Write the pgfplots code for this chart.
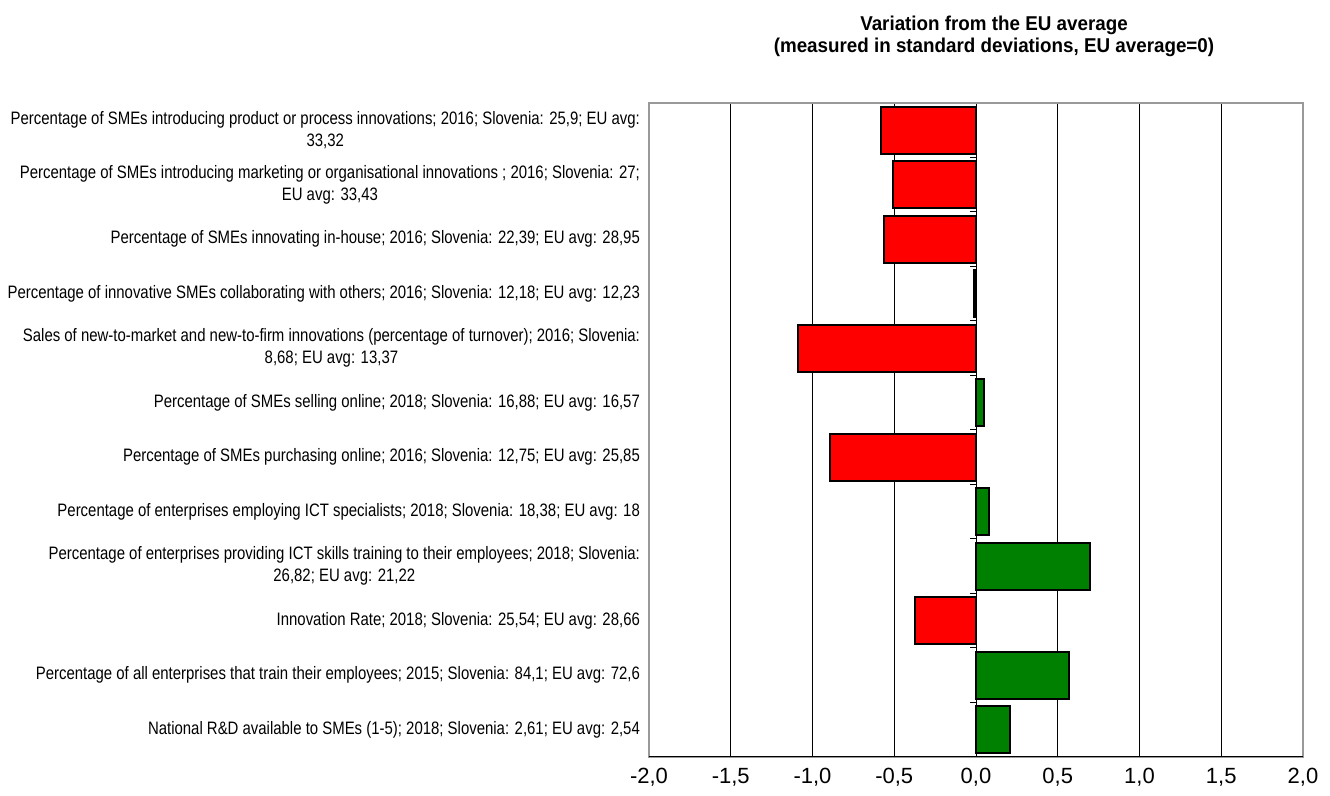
\documentclass[border=0pt]{standalone}
\usepackage{fontspec}
\setmainfont{Liberation Sans}
\newfontfamily\labelfont[FakeStretch=0.83]{Liberation Sans}
\newfontfamily\titlefont[FakeStretch=0.94]{Liberation Sans}
\usepackage{pgfplots}
\pgfplotsset{compat=1.18}
\definecolor{barred}{RGB}{255,0,0}
\definecolor{bargreen}{RGB}{0,128,0}
\begin{document}
\begin{tikzpicture}
\path[use as bounding box] (0,0) rectangle (665pt,398pt);
\node[align=center,font=\titlefont\bfseries\fontsize{10}{11}\selectfont] at (497pt,380pt)
  {Variation from the EU average\\(measured in standard deviations, EU average=0)};
\begin{axis}[
  at={(324.5pt,19.5pt)}, anchor=south west,
  scale only axis, width=327pt, height=327pt,
  xbar, bar shift=0pt, bar width=0.86,
  xmin=-2, xmax=2, ymin=-0.5, ymax=11.5, y dir=reverse,
  xtick={-2,-1.5,...,2},
  xticklabel style={yshift=-2pt, font=\fontsize{11}{13}\selectfont, /pgf/number format/.cd, fixed, fixed zerofill, precision=1, use comma},
  /pgf/number format/assume math mode=true,
  ytick={0,...,11},
  major tick length=0pt,
  xmajorgrids, grid style={black, line width=0.4pt},
  axis line style={gray!80, line width=0.6pt},
  yticklabel style={font=\labelfont\fontsize{9}{11}\selectfont, align=center, xshift=-1pt},
  yticklabels={
    {Percentage of SMEs introducing product or process innovations; 2016; Slovenia: 25,9; EU avg:\\33,32},
    {Percentage of SMEs introducing marketing or organisational innovations ; 2016; Slovenia: 27;\\EU avg: 33,43},
    {Percentage of SMEs innovating in-house; 2016; Slovenia: 22,39; EU avg: 28,95},
    {Percentage of innovative SMEs collaborating with others; 2016; Slovenia: 12,18; EU avg: 12,23},
    {Sales of new-to-market and new-to-firm innovations (percentage of turnover); 2016; Slovenia:\\8,68; EU avg: 13,37},
    {Percentage of SMEs selling online; 2018; Slovenia: 16,88; EU avg: 16,57},
    {Percentage of SMEs purchasing online; 2016; Slovenia: 12,75; EU avg: 25,85},
    {Percentage of enterprises employing ICT specialists; 2018; Slovenia: 18,38; EU avg: 18},
    {Percentage of enterprises providing ICT skills training to their employees; 2018; Slovenia:\\26,82; EU avg: 21,22},
    {Innovation Rate; 2018; Slovenia: 25,54; EU avg: 28,66},
    {Percentage of all enterprises that train their employees; 2015; Slovenia: 84,1; EU avg: 72,6},
    {National R\&D available to SMEs (1-5); 2018; Slovenia: 2,61; EU avg: 2,54}
  },
]
\addplot[fill=barred, draw=black, line width=1pt] coordinates {
  (-0.58,0) (-0.51,1) (-0.56,2) (-0.01,3) (-1.09,4) (-0.89,6) (-0.37,9)
};
\addplot[fill=bargreen, draw=black, line width=1pt] coordinates {
  (0.05,5) (0.08,7) (0.70,8) (0.57,10) (0.21,11)
};
\pgfplotsinvokeforeach{0.5,1.5,2.5,3.5,4.5,5.5,6.5,7.5,8.5,9.5,10.5}{
  \draw[black, line width=0.5pt] (axis cs:0,#1) -- ([xshift=-3pt]axis cs:0,#1);
}
\draw[black, line width=0.8pt] (rel axis cs:0,0) -- (rel axis cs:1,0);
\end{axis}
\end{tikzpicture}
\end{document}
